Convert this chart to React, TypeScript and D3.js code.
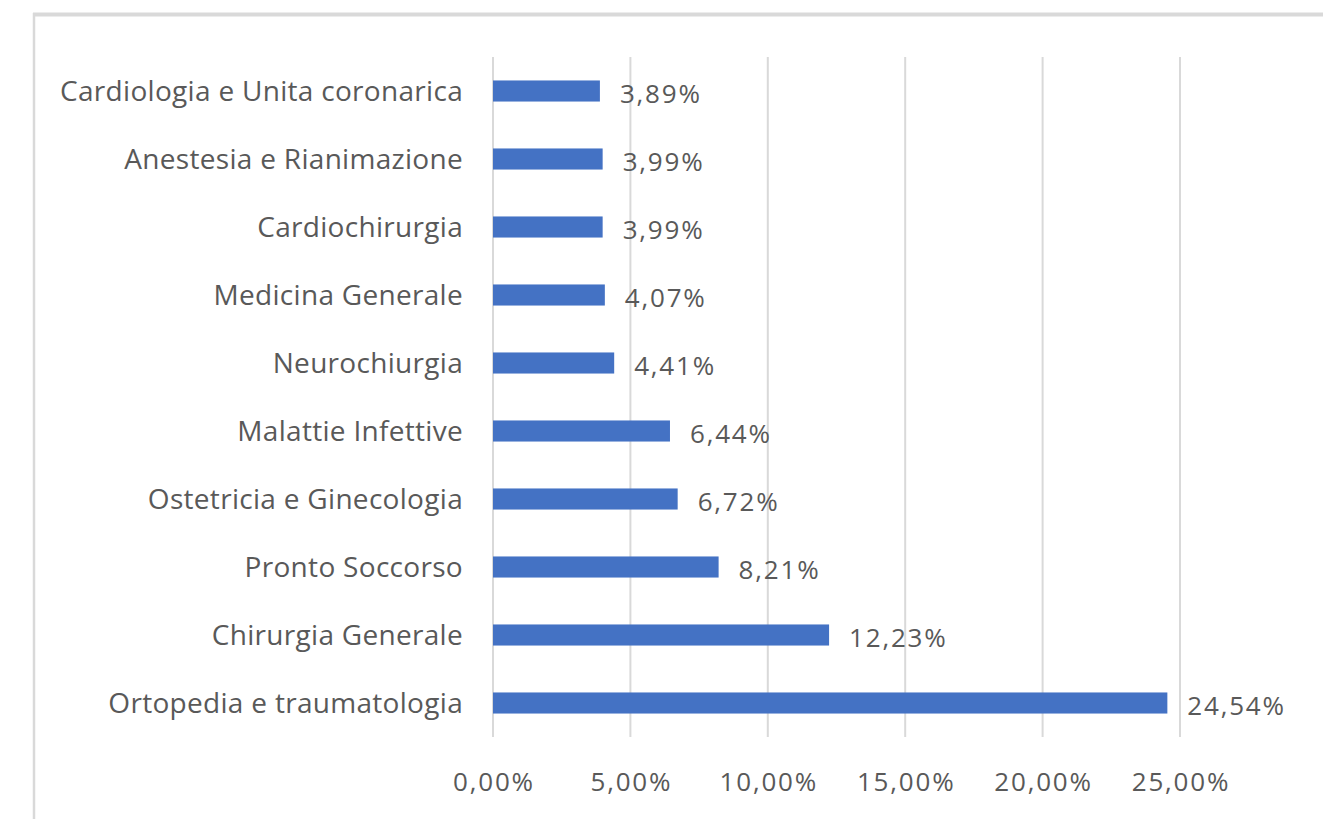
import React, { useRef, useEffect } from 'react';
import * as d3 from 'd3';

const categories = [
  'Cardiologia e Unita coronarica',
  'Anestesia e Rianimazione',
  'Cardiochirurgia',
  'Medicina Generale',
  'Neurochiurgia',
  'Malattie Infettive',
  'Ostetricia e Ginecologia',
  'Pronto Soccorso',
  'Chirurgia Generale',
  'Ortopedia e traumatologia',
];
const values = [3.89, 3.99, 3.99, 4.07, 4.41, 6.44, 6.72, 8.21, 12.23, 24.54];
const ticks = [0, 5, 10, 15, 20, 25];

const fmt = (v: number) => v.toFixed(2).replace('.', ',') + '%';

const App = () => {
  const ref = useRef<SVGSVGElement>(null);

  useEffect(() => {
    const width = 1323;
    const height = 819;
    const svg = d3.select(ref.current)
      .attr('width', width)
      .attr('height', height);
    svg.selectAll('*').remove();

    const font = '"Open Sans", sans-serif';
    const grey = '#595959';

    svg.append('rect').attr('width', width).attr('height', height).attr('fill', '#fff');

    // outer frame (top and left edges visible)
    svg.append('line')
      .attr('x1', 33).attr('x2', width).attr('y1', 14.5).attr('y2', 14.5)
      .attr('stroke', '#d9d9d9').attr('stroke-width', 4);
    svg.append('line')
      .attr('x1', 34).attr('x2', 34).attr('y1', 13).attr('y2', height)
      .attr('stroke', '#d9d9d9').attr('stroke-width', 2.5);

    const x = d3.scaleLinear().domain([0, 25]).range([493, 1180]);
    const y = d3.scaleBand<string>().domain(categories).range([57, 737]).paddingInner(0.69).paddingOuter(0.345);

    svg.append('g')
      .selectAll('line')
      .data(ticks)
      .join('line')
      .attr('x1', d => x(d)).attr('x2', d => x(d))
      .attr('y1', 57).attr('y2', 737)
      .attr('stroke', '#d9d9d9').attr('stroke-width', 2);

    svg.append('g')
      .selectAll('text')
      .data(ticks)
      .join('text')
      .attr('x', d => x(d) + 1)
      .attr('y', 782)
      .attr('dy', '0.35em')
      .attr('text-anchor', 'middle')
      .attr('font-family', font)
      .attr('font-size', 26)
      .attr('letter-spacing', 1.8)
      .attr('fill', grey)
      .text(d => fmt(d));

    svg.append('g')
      .selectAll('rect')
      .data(values)
      .join('rect')
      .attr('x', x(0))
      .attr('y', (d, i) => y(categories[i])!)
      .attr('width', d => x(d) - x(0))
      .attr('height', y.bandwidth())
      .attr('fill', '#4472c4');

    svg.append('g')
      .selectAll('text')
      .data(categories)
      .join('text')
      .attr('x', 463)
      .attr('y', d => y(d)! + y.bandwidth() / 2)
      .attr('dy', '0.35em')
      .attr('text-anchor', 'end')
      .attr('font-family', font)
      .attr('font-size', 28)
      .attr('letter-spacing', 0.3)
      .attr('fill', grey)
      .text(d => d);

    svg.append('g')
      .selectAll('text')
      .data(values)
      .join('text')
      .attr('x', d => x(d) + 20)
      .attr('y', (d, i) => y(categories[i])! + y.bandwidth() / 2 + 3)
      .attr('dy', '0.35em')
      .attr('font-family', font)
      .attr('font-size', 26)
      .attr('letter-spacing', 1.8)
      .attr('fill', grey)
      .text(d => fmt(d));
  }, []);

  return <svg ref={ref} style={{ position: 'absolute', left: 0, top: 0, display: 'block' }} />;
};

export default App;
